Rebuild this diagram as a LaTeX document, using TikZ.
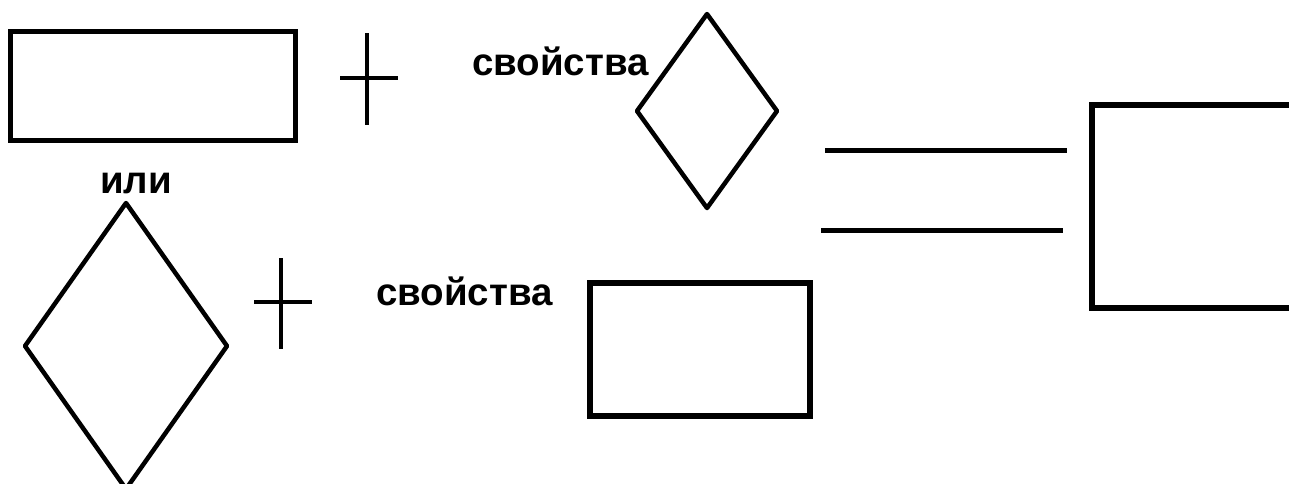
\documentclass[tikz,border=0pt]{standalone}
\usepackage{fontspec}
\setmainfont{Liberation Sans}
\usetikzlibrary{shapes.geometric}
\tikzset{
  box/.style={draw=black, rectangle, line width=5pt, inner sep=0pt, outer sep=0pt},
  rhomb/.style={draw=black, diamond, line width=4.5pt, line join=round, inner sep=0pt, outer sep=0pt},
  bar/.style={draw=black, line width=5pt},
  plusbar/.style={draw=black, line width=4pt},
  label/.style={font=\fontsize{38.5}{42}\selectfont\bfseries, inner sep=0pt, anchor=base}
}
\begin{document}
\begin{tikzpicture}[x=1pt, y=-1pt]
  \useasboundingbox (0,0) rectangle (1289,483);
  \clip (0,0) rectangle (1289,483);

  % first line: rectangle + properties diamond
  \node[box, minimum width=285pt, minimum height=109pt] (r1) at (153,86) {};
  \coordinate (p1t) at (367,33);  \coordinate (p1b) at (367,125);
  \coordinate (p1l) at (340,78);  \coordinate (p1r) at (398,78);
  \draw[plusbar] (p1t) -- (p1b);
  \draw[plusbar] (p1l) -- (p1r);
  \node[label] (s1) at (560.5,75) {свойства};
  \node[rhomb, minimum width=140pt, minimum height=194pt] (d1) at (707,111) {};

  % "or"
  \node[label] (ili) at (136,193) {или};

  % second line: diamond + properties rectangle
  \node[rhomb, minimum width=202pt, minimum height=286pt] (d2) at (126,346) {};
  \coordinate (p2t) at (281,258); \coordinate (p2b) at (281,349);
  \coordinate (p2l) at (254,302); \coordinate (p2r) at (312,302);
  \draw[plusbar] (p2t) -- (p2b);
  \draw[plusbar] (p2l) -- (p2r);
  \node[label] (s2) at (464.5,305) {свойства};
  \node[box, line width=6pt, minimum width=219.5pt, minimum height=133pt] (r2) at (699.75,349.5) {};
  \coordinate (r2a) at (587,281.5); \coordinate (r2b) at (764,281.5);
  \draw[line width=3pt] (r2a) -- (r2b);

  % equals sign
  \coordinate (e1l) at (825,150);  \coordinate (e1r) at (1067,150);
  \coordinate (e2l) at (821,230);  \coordinate (e2r) at (1063,230);
  \draw[bar] (e1l) -- (e1r);
  \draw[bar] (e2l) -- (e2r);

  % result rectangle, running off the right edge
  \node[box, line width=6pt, minimum width=260pt, minimum height=203pt] (r3) at (1221.5,206) {};
\end{tikzpicture}
\end{document}
